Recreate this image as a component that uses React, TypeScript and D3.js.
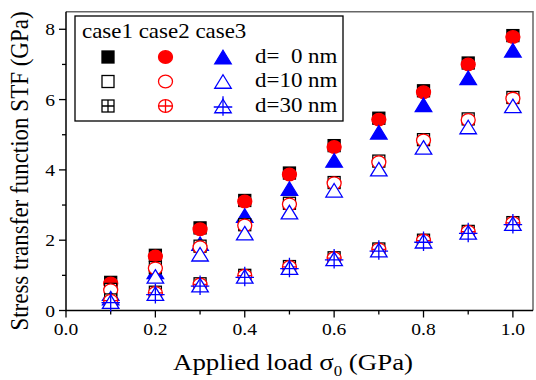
import React from "react";
import * as d3 from "d3";

// applied load sigma_0 (GPa)
const loads = [0.1, 0.2, 0.3, 0.4, 0.5, 0.6, 0.7, 0.8, 0.9, 1.0];

// d = 0 nm
const case1d0 = [0.8, 1.57, 2.35, 3.13, 3.91, 4.69, 5.47, 6.25, 7.04, 7.82];
const case2d0 = [0.77, 1.54, 2.31, 3.1, 3.87, 4.65, 5.43, 6.21, 7.0, 7.78];
const case3d0 = [0.48, 1.1, 1.9, 2.7, 3.47, 4.27, 5.07, 5.85, 6.62, 7.4];
// d = 10 nm
const case1d10 = [0.6, 1.22, 1.83, 2.44, 3.05, 3.64, 4.25, 4.86, 5.45, 6.06];
const case2d10 = [0.58, 1.2, 1.8, 2.42, 3.02, 3.62, 4.22, 4.84, 5.42, 6.03];
const case3d10 = [0.35, 0.97, 1.6, 2.2, 2.8, 3.42, 4.02, 4.64, 5.22, 5.82];
// d = 30 nm
const case1d30 = [0.3, 0.52, 0.76, 1.0, 1.25, 1.5, 1.75, 2.0, 2.25, 2.5];
const case2d30 = [0.28, 0.5, 0.74, 0.99, 1.24, 1.49, 1.74, 1.99, 2.24, 2.49];
const case3d30 = [0.25, 0.48, 0.72, 0.97, 1.22, 1.47, 1.72, 1.97, 2.22, 2.47];

const caseNames = ["case1", "case2", "case3"];
const distLabels = ["d=  0 nm", "d=10 nm", "d=30 nm"];
const xTicks = [0, 0.2, 0.4, 0.6, 0.8, 1.0];
const xMinor = [0.1, 0.3, 0.5, 0.7, 0.9];
const yTicks = [0, 2, 4, 6, 8];
const yMinor = [1, 3, 5, 7];

const shapes = ["square", "circle", "triangle"];
const colors = ["#000000", "#ff0000", "#0000ff"];
const styles = ["filled", "open", "crossed"];
const seriesByDist = [
  [case1d0, case2d0, case3d0],
  [case1d10, case2d10, case3d10],
  [case1d30, case2d30, case3d30],
];

const W = 536;
const H = 380;
const SX = 1.12; // the figure is a bit wider than tall
const font = "'Liberation Serif', 'Times New Roman', serif";

const x = d3.scaleLinear().domain([0, 1.045]).range([66, 533]);
const y = d3.scaleLinear().domain([0, 8.5]).range([310.5, 11.7]);

function Marker({ shape, kind, color, cx, cy }) {
  const fill = kind === "filled" ? color : "#fff";
  const sw = 1.3;
  if (shape === "square") {
    const w = 12, h = 12;
    return (
      <g>
        <rect x={cx - w / 2} y={cy - h / 2} width={w} height={h} fill={fill} stroke={color} strokeWidth={sw} />
        {kind === "crossed" && (
          <path d={`M${cx},${cy - h / 2}V${cy + h / 2}M${cx - w / 2},${cy}H${cx + w / 2}`} stroke={color} strokeWidth={sw} />
        )}
      </g>
    );
  }
  if (shape === "circle") {
    const rx = 7, ry = 6.3;
    return (
      <g>
        <ellipse cx={cx} cy={cy} rx={rx} ry={ry} fill={fill} stroke={color} strokeWidth={sw} />
        {kind === "crossed" && (
          <path d={`M${cx},${cy - ry}V${cy + ry}M${cx - rx},${cy}H${cx + rx}`} stroke={color} strokeWidth={sw} />
        )}
      </g>
    );
  }
  const w = 16.5, h = 13.5;
  return (
    <g>
      <path
        d={`M${cx},${cy - h / 2}L${cx + w / 2},${cy + h / 2}L${cx - w / 2},${cy + h / 2}Z`}
        fill={fill}
        stroke={color}
        strokeWidth={sw}
      />
      {kind === "crossed" && (
        <path
          d={`M${cx},${cy - h / 2 - 3}V${cy + h / 2 + 3}M${cx - w / 2 - 1},${cy + 1}H${cx + w / 2 + 1}`}
          stroke={color}
          strokeWidth={sw}
        />
      )}
    </g>
  );
}

function Txt({ x: tx, y: ty, size, anchor = "start", children }) {
  return (
    <text
      transform={`translate(${tx},${ty}) scale(${SX},1)`}
      fontSize={size}
      textAnchor={anchor}
      fontFamily={font}
      fill="#000"
      style={{ whiteSpace: "pre" }}
    >
      {children}
    </text>
  );
}

export default function App() {
  const [x0, x1] = x.range();
  const [yb, yt] = y.range();
  return (
    <svg width={W} height={H} style={{ position: "absolute", left: 0, top: 0 }}>
      <rect width={W} height={H} fill="#fff" />

      {/* frame */}
      <path d={`M${x0},${yt}H${x1}V${yb}`} fill="none" stroke="#666" strokeWidth={1.5} />
      <path d={`M${x0},${yt}V${yb}H${x1}`} fill="none" stroke="#000" strokeWidth={1.5} />

      {/* x axis ticks */}
      {xTicks.map((t) => (
        <g key={"xt" + t}>
          <line x1={x(t)} x2={x(t)} y1={yb} y2={yb + 7} stroke="#000" strokeWidth={1.3} />
          <Txt x={x(t)} y={335} size={17.5} anchor="middle">{t.toFixed(1)}</Txt>
        </g>
      ))}
      {xMinor.map((t) => (
        <line key={"xm" + t} x1={x(t)} x2={x(t)} y1={yb} y2={yb + 4} stroke="#000" strokeWidth={1.3} />
      ))}

      {/* y axis ticks */}
      {yTicks.map((t) => (
        <g key={"yt" + t}>
          <line x1={x0 - 7} x2={x0} y1={y(t)} y2={y(t)} stroke="#000" strokeWidth={1.3} />
          <Txt x={55} y={y(t) + 6} size={17.5} anchor="end">{String(t)}</Txt>
        </g>
      ))}
      {yMinor.map((t) => (
        <line key={"ym" + t} x1={x0 - 4} x2={x0} y1={y(t)} y2={y(t)} stroke="#000" strokeWidth={1.3} />
      ))}

      {/* axis titles */}
      <text
        transform={`translate(28,171) scale(${SX},1) rotate(-90)`}
        fontSize={23}
        textAnchor="middle"
        fontFamily={font}
      >
        Stress transfer function STF (GPa)
      </text>
      <text transform={`translate(293,370) scale(${SX},1)`} fontSize={24} textAnchor="middle" fontFamily={font}>
        Applied load σ
        <tspan fontSize={15} dy={6}>0</tspan>
        <tspan dy={-6}> (GPa)</tspan>
      </text>

      {/* data */}
      {seriesByDist.map((group, di) =>
        group.map((vals, ci) =>
          vals.map((v, i) => (
            <Marker
              key={`p${di}-${ci}-${i}`}
              shape={shapes[ci]}
              kind={styles[di]}
              color={colors[ci]}
              cx={x(loads[i])}
              cy={y(v)}
            />
          ))
        )
      )}

      {/* legend */}
      <rect x={75} y={16} width={268} height={105} fill="#fff" stroke="#000" strokeWidth={1.3} />
      <Txt x={82} y={38} size={20.5}>{caseNames.join(" ")}</Txt>
      {distLabels.map((lab, di) => (
        <g key={"lg" + di}>
          {caseNames.map((_, ci) => (
            <Marker
              key={"lm" + ci}
              shape={shapes[ci]}
              kind={styles[di]}
              color={colors[ci]}
              cx={108 + ci * 57.5}
              cy={57 + di * 24.5}
            />
          ))}
          <Txt x={255} y={63 + di * 24.3} size={20.5}>{lab}</Txt>
        </g>
      ))}
    </svg>
  );
}
